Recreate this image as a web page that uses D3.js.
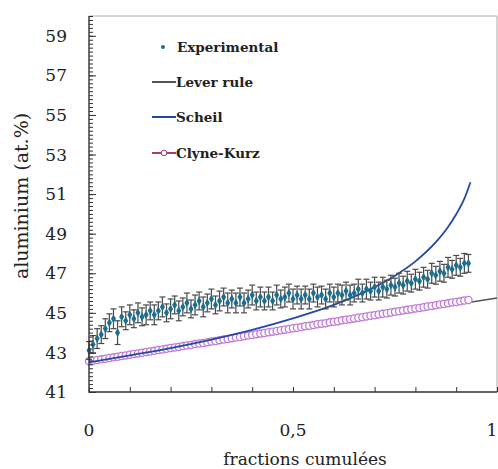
<!DOCTYPE html>
<html><head><meta charset="utf-8">
<script src="https://cdn.jsdelivr.net/npm/d3@7"></script>
<style>body{margin:0;background:#fff}svg{display:block}</style>
</head><body>
<script>
// ---- data ----
const xTickLabels = [{v:0,t:"0"},{v:0.5,t:"0,5"},{v:1,t:"1"}];
const yTickLabels = [41,43,45,47,49,51,53,55,57,59];
const seriesNames = ["Experimental","Lever rule","Scheil","Clyne-Kurz"];

const expFrac = [0,0.01,0.02,0.03,0.04,0.05,0.06,0.07,0.08,0.09,0.10,0.11,0.12,0.13,0.14,0.15,0.16,0.17,0.18,0.19,0.20,0.21,0.22,0.23,0.24,0.25,0.26,0.27,0.28,0.29,0.30,0.31,0.32,0.33,0.34,0.35,0.36,0.37,0.38,0.39,0.40,0.41,0.42,0.43,0.44,0.45,0.46,0.47,0.48,0.49,0.50,0.51,0.52,0.53,0.54,0.55,0.56,0.57,0.58,0.59,0.60,0.61,0.62,0.63,0.64,0.65,0.66,0.67,0.68,0.69,0.70,0.71,0.72,0.73,0.74,0.75,0.76,0.77,0.78,0.79,0.80,0.81,0.82,0.83,0.84,0.85,0.86,0.87,0.88,0.89,0.90,0.91,0.92,0.93];
const expAl = [43.1,43.4,43.7,43.9,44.2,44.5,44.7,44.0,44.8,44.6,44.9,44.7,45.0,44.8,44.9,45.1,44.9,45.1,45.3,45.0,45.2,45.4,45.1,45.3,45.5,45.2,45.4,45.6,45.3,45.5,45.7,45.4,45.6,45.8,45.5,45.7,45.5,45.8,45.5,45.7,45.9,45.6,45.8,45.6,45.8,45.6,45.9,45.7,45.8,46.0,45.7,45.9,45.7,45.9,45.7,46.0,45.8,45.9,45.7,46.0,45.8,46.0,45.9,46.1,45.9,46.0,46.2,46.0,46.2,46.1,46.3,46.1,46.3,46.2,46.4,46.3,46.5,46.4,46.6,46.5,46.7,46.6,46.8,46.7,47.0,46.9,47.1,47.0,47.3,47.2,47.4,47.3,47.5,47.5];
const expErr = [0.45,0.45,0.5,0.45,0.5,0.45,0.5,0.6,0.5,0.45,0.5,0.45,0.5,0.45,0.5,0.45,0.5,0.45,0.5,0.45,0.5,0.45,0.5,0.45,0.5,0.45,0.5,0.45,0.5,0.45,0.5,0.45,0.5,0.45,0.5,0.45,0.5,0.45,0.5,0.45,0.5,0.45,0.5,0.45,0.5,0.45,0.5,0.45,0.5,0.45,0.5,0.45,0.5,0.45,0.5,0.45,0.5,0.45,0.5,0.45,0.5,0.45,0.5,0.45,0.5,0.45,0.5,0.45,0.5,0.45,0.5,0.45,0.5,0.45,0.5,0.45,0.5,0.45,0.5,0.45,0.5,0.45,0.5,0.45,0.5,0.45,0.5,0.45,0.5,0.45,0.5,0.45,0.5,0.45];

const leverFrac = [0,1];
const leverAl = [42.5,45.75];

const scheilFrac = [0,0.1,0.2,0.3,0.4,0.5,0.6,0.65,0.7,0.75,0.8,0.85,0.88,0.9,0.92,0.935];
const scheilAl = [42.5,42.85,43.22,43.65,44.14,44.72,45.4,45.82,46.3,46.88,47.6,48.57,49.34,49.98,50.77,51.6];

const ckFrac = expFrac;
const ckAl = [42.55,42.58,42.62,42.65,42.68,42.72,42.75,42.78,42.82,42.85,42.88,42.92,42.95,42.98,43.02,43.05,43.08,43.12,43.15,43.18,43.22,43.25,43.28,43.32,43.35,43.38,43.42,43.45,43.48,43.52,43.55,43.58,43.62,43.65,43.68,43.72,43.75,43.78,43.82,43.85,43.88,43.92,43.95,43.98,44.02,44.05,44.08,44.12,44.15,44.18,44.22,44.25,44.28,44.32,44.35,44.38,44.42,44.45,44.48,44.52,44.55,44.58,44.62,44.65,44.68,44.72,44.75,44.78,44.82,44.85,44.88,44.92,44.95,44.98,45.02,45.05,45.08,45.12,45.15,45.18,45.22,45.25,45.28,45.32,45.35,45.38,45.42,45.45,45.48,45.52,45.55,45.58,45.62,45.65];

// ---- drawing ----
const W = 498, H = 469;
const svg = d3.select("body").append("svg").attr("width", W).attr("height", H);
const x = d3.scaleLinear().domain([0,1]).range([89,497]);
const y = d3.scaleLinear().domain([41,60]).range([392,16]);
const serif = "'DejaVu Serif', 'Liberation Serif', serif";

// frame (top & right)
svg.append("path").attr("d", `M${x(0)},${y(60)}H${x(1)}V${y(41)}`)
  .attr("fill","none").attr("stroke","#aaa").attr("stroke-width",1);

// Lever rule
const line = d3.line().x(d=>x(d[0])).y(d=>y(d[1]));
svg.append("path").datum(leverFrac.map((f,i)=>[f,leverAl[i]]))
  .attr("d", line).attr("fill","none").attr("stroke","#555").attr("stroke-width",1.6);

// Clyne-Kurz circles
svg.append("g").selectAll("circle").data(ckFrac.map((f,i)=>[f,ckAl[i]])).join("circle")
  .attr("cx",d=>x(d[0])).attr("cy",d=>y(d[1])).attr("r",3.6)
  .attr("fill","#fff").attr("stroke","#c27ad6").attr("stroke-width",1.3);

// Scheil
svg.append("path").datum(scheilFrac.map((f,i)=>[f,scheilAl[i]]))
  .attr("d", line.curve(d3.curveMonotoneX)).attr("fill","none").attr("stroke","#2448a8").attr("stroke-width",1.8);

// Experimental error bars
const expData = expFrac.map((f,i)=>({f, v:expAl[i], e:expErr[i]}));
const eb = svg.append("g").attr("stroke","#4a4a4a").attr("stroke-width",1.2);
expData.forEach(d=>{
  const cx = x(d.f), y1 = y(d.v + d.e), y2 = y(d.v - d.e);
  eb.append("line").attr("x1",cx).attr("x2",cx).attr("y1",y1).attr("y2",y2);
  eb.append("line").attr("x1",cx-3).attr("x2",cx+3).attr("y1",y1).attr("y2",y1);
  eb.append("line").attr("x1",cx-3).attr("x2",cx+3).attr("y1",y2).attr("y2",y2);
});
svg.append("g").selectAll("path").data(expData).join("path")
  .attr("d", d3.symbol(d3.symbolDiamond, 22))
  .attr("transform", d=>`translate(${x(d.f)},${y(d.v)})`)
  .attr("fill","#1d6e8c");

// axes
const yMinor = d3.range(41, 60.01, 0.2);
const gy = svg.append("g").attr("transform",`translate(${x(0)},0)`);
gy.call(d3.axisRight(y).tickValues(yMinor).tickSize(4).tickFormat(""));
gy.selectAll(".tick line").attr("stroke","#333");
gy.select(".domain").remove();
const gy2 = svg.append("g").attr("transform",`translate(${x(0)},0)`);
gy2.call(d3.axisRight(y).tickValues(yTickLabels).tickSize(7).tickFormat(""));
gy2.select(".domain").remove();
gy2.selectAll(".tick line").attr("stroke","#333");
svg.append("g").selectAll("text").data(yTickLabels).join("text")
  .attr("x",67).attr("y",d=>y(d)).attr("dy","0.36em").attr("text-anchor","end")
  .attr("font-family",serif).attr("font-size",17).attr("fill","#222").text(d=>d);

const gx = svg.append("g").attr("transform",`translate(0,${y(41)})`);
gx.call(d3.axisTop(x).tickValues(d3.range(0,1.001,0.1)).tickSize(5).tickFormat(""));
gx.select(".domain").remove();
gx.selectAll(".tick line").attr("stroke","#333");
svg.append("g").selectAll("text").data(xTickLabels).join("text")
  .attr("x",d=>Math.min(x(d.v), 492)).attr("y",436).attr("text-anchor","middle")
  .attr("font-family",serif).attr("font-size",17).attr("fill","#222").text(d=>d.t);

// axis lines
svg.append("path").attr("d",`M${x(0)},${y(60)}V${y(41)}H${x(1)}`)
  .attr("fill","none").attr("stroke","#333").attr("stroke-width",1.4);

// axis titles
svg.append("text").attr("x",305).attr("y",465).attr("text-anchor","middle")
  .attr("font-family",serif).attr("font-size",17).attr("fill","#222").text("fractions cumulées");
svg.append("text").attr("transform","translate(28,196) rotate(-90)").attr("text-anchor","middle")
  .attr("font-family",serif).attr("font-size",19).attr("fill","#222").text("aluminium (at.%)");

// legend
const leg = svg.append("g").attr("font-family",serif).attr("font-size",13.5).attr("font-weight","bold").attr("fill","#222");
const legY = [47,82,117,153];
leg.append("circle").attr("cx",163).attr("cy",legY[0]).attr("r",2).attr("fill","#1d6e8c");
leg.append("line").attr("x1",152).attr("x2",176).attr("y1",legY[1]).attr("y2",legY[1]).attr("stroke","#555").attr("stroke-width",2);
leg.append("line").attr("x1",152).attr("x2",176).attr("y1",legY[2]).attr("y2",legY[2]).attr("stroke","#2448a8").attr("stroke-width",2);
leg.append("line").attr("x1",152).attr("x2",176).attr("y1",legY[3]).attr("y2",legY[3]).attr("stroke","#b03a78").attr("stroke-width",2);
leg.append("circle").attr("cx",164).attr("cy",legY[3]).attr("r",2.8).attr("fill","#fff").attr("stroke","#b03a78").attr("stroke-width",1);
seriesNames.forEach((s,i)=>{
  leg.append("text").attr("x", i===0?177:176).attr("y",legY[i]).attr("dy","0.35em").text(s);
});
</script>
</body></html>
